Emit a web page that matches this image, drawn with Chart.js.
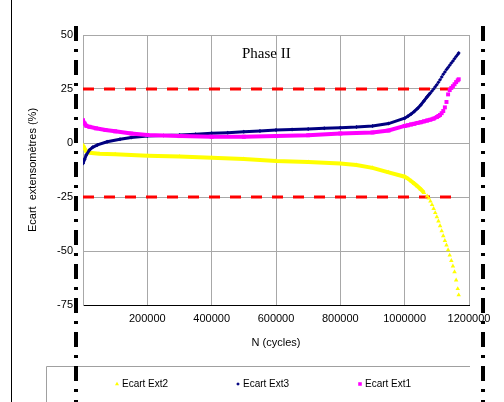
<!DOCTYPE html>
<html>
<head>
<meta charset="utf-8">
<script src="https://cdn.jsdelivr.net/npm/chart.js@4/dist/chart.umd.min.js"></script>
<style>
  html, body { margin: 0; padding: 0; background: #ffffff; }
  #wrap { position: relative; width: 504px; height: 402px; }
  canvas { display: block; }
</style>
</head>
<body>
<div id="wrap"><canvas id="c" width="504" height="402"></canvas></div>
<script>
// ---- Data (N in cycles, ecart in %) ----
const ext2N = [0, 5000, 10000, 20000, 50000, 100000, 200000, 300000, 400000, 500000, 600000, 700000, 800000, 850000, 900000, 950000, 1000000,
  1010000, 1020000, 1030000, 1040000, 1050000, 1060000, 1070000, 1075000, 1080000, 1085000, 1090000, 1095000, 1100000, 1105000, 1110000,
  1115000, 1120000, 1125000, 1130000, 1135000, 1140000, 1145000, 1150000, 1155000, 1160000, 1165000, 1168000];
const ext2Y = [-1.0, -2.5, -3.8, -4.5, -5.0, -5.2, -5.9, -6.3, -6.8, -7.4, -8.3, -8.8, -9.5, -10.2, -11.5, -13.6, -15.6,
  -16.5, -17.6, -18.8, -20.0, -21.4, -23.0, -24.6, -25.6, -27.0, -28.6, -30.4, -32.3, -34.2, -36.2, -38.4,
  -40.7, -43.0, -45.2, -47.3, -49.5, -52.0, -54.5, -57.0, -59.7, -63.5, -67.5, -70.4];

const ext3N = [0, 5000, 10000, 20000, 30000, 45000, 75000, 115000, 150000, 200000, 250000, 300000, 350000, 400000, 450000, 500000, 550000,
  600000, 650000, 700000, 750000, 800000, 850000, 900000, 950000, 1000000, 1010000, 1020000, 1030000, 1040000, 1050000, 1060000,
  1070000, 1075000, 1080000, 1085000, 1090000, 1095000, 1100000, 1105000, 1110000, 1115000, 1120000, 1125000, 1130000, 1135000,
  1140000, 1145000, 1150000, 1155000, 1160000, 1165000, 1168000];
const ext3Y = [-9.5, -7.5, -5.6, -3.2, -2.0, -0.9, 0.6, 1.7, 2.5, 3.2, 3.5, 3.7, 4.1, 4.5, 4.8, 5.2, 5.6,
  6.0, 6.2, 6.5, 6.8, 7.1, 7.4, 7.9, 9.0, 11.5, 12.4, 13.4, 14.6, 16.0, 17.6, 19.5,
  21.4, 22.3, 23.2, 24.1, 25.0, 26.0, 27.0, 28.1, 29.3, 30.5, 31.8, 32.9, 34.0, 35.0,
  36.0, 37.0, 38.0, 39.0, 40.0, 41.0, 41.7];

const ext1N = [0, 5000, 10000, 20000, 40000, 70000, 100000, 150000, 200000, 300000, 400000, 500000, 600000, 700000, 800000, 900000,
  950000, 1000000, 1010000, 1020000, 1030000, 1040000, 1050000, 1060000, 1070000, 1080000, 1090000, 1100000, 1105000, 1110000,
  1115000, 1120000, 1125000, 1130000, 1135000, 1140000, 1145000, 1150000, 1155000, 1160000, 1165000, 1168000];
const ext1Y = [10.5, 9.0, 8.0, 7.5, 6.8, 6.0, 5.4, 4.4, 3.7, 3.2, 2.9, 2.9, 3.2, 3.6, 4.4, 4.9,
  5.8, 7.9, 8.2, 8.6, 8.9, 9.3, 9.6, 10.0, 10.4, 10.8, 11.3, 12.0, 12.5, 13.0,
  13.8, 14.8, 16.5, 19.0, 22.5, 24.5, 25.5, 26.3, 27.2, 28.2, 29.0, 29.5];

const seuilN = [0, 1170000];
const seuilHaut = [25, 25];
const seuilBas = [-25, -25];

const xTicks = [0, 200000, 400000, 600000, 800000, 1000000, 1200000];
const yTicks = [50, 25, 0, -25, -50, -75];

const toPts = (xs, ys) => xs.map((x, i) => ({ x: x, y: ys[i] }));

Chart.defaults.font.family = "'Liberation Sans', Arial, sans-serif";
Chart.defaults.color = '#000000';

const tailSeg = (color, tail) => (ctx) => (ctx.p1.parsed.x > tail ? 'rgba(0,0,0,0)' : color);

const seriesDefs = [
  { label: 'Ecart Ext2', n: ext2N, y: ext2Y, color: '#ffff00', style: 'triangle', r: 2.6, w: 4, tail: 1060000 },
  { label: 'Ecart Ext3', n: ext3N, y: ext3Y, color: '#000080', style: 'rectRot', r: 2.0, w: 3, tail: 1080000 },
  { label: 'Ecart Ext1', n: ext1N, y: ext1Y, color: '#ff00ff', style: 'rect', r: 2.8, w: 4, tail: 1110000 }
];

const datasets = [
  { label: 'seuil+', data: toPts(seuilN, seuilHaut), showLine: true, borderColor: '#ff0000', borderWidth: 3,
    borderDash: [11, 10], pointRadius: 0, isThreshold: true, order: 5 },
  { label: 'seuil-', data: toPts(seuilN, seuilBas), showLine: true, borderColor: '#ff0000', borderWidth: 3,
    borderDash: [11, 10], pointRadius: 0, isThreshold: true, order: 5 }
];
seriesDefs.forEach((s, i) => {
  datasets.push({
    label: s.label,
    data: toPts(s.n, s.y),
    showLine: true,
    borderColor: s.color,
    borderWidth: s.w,
    backgroundColor: s.color,
    pointBackgroundColor: s.color,
    pointBorderColor: s.color,
    pointBorderWidth: 0,
    pointStyle: s.style,
    pointRadius: s.r,
    segment: { borderColor: tailSeg(s.color, s.tail) },
    order: 3 - i
  });
});

// decorations: annotation text, scanned frame artefacts, custom legend
const decor = {
  id: 'decor',
  afterDatasetsDraw(chart) {
    const { ctx, scales } = chart;
    ctx.save();
    ctx.fillStyle = '#000000';
    ctx.font = "15px 'Liberation Serif', 'Times New Roman', serif";
    ctx.textAlign = 'center';
    ctx.textBaseline = 'middle';
    ctx.fillText('Phase II', scales.x.getPixelForValue(570000), scales.y.getPixelForValue(41));
    ctx.restore();
  },
  afterDraw(chart) {
    const { ctx } = chart;
    ctx.save();
    // outer frame line on the left
    ctx.strokeStyle = '#000000';
    ctx.lineWidth = 1;
    ctx.beginPath(); ctx.moveTo(11.5, 0); ctx.lineTo(11.5, 402); ctx.stroke();
    // legend frame
    ctx.strokeStyle = '#a0a0a0';
    ctx.beginPath(); ctx.moveTo(46.5, 402); ctx.lineTo(46.5, 366.5); ctx.lineTo(470, 366.5); ctx.stroke();
    // dash-dot artefacts
    ctx.strokeStyle = '#000000';
    ctx.lineWidth = 4;
    ctx.setLineDash([15, 8, 3, 8]);
    ctx.beginPath(); ctx.moveTo(76, 26); ctx.lineTo(76, 402); ctx.stroke();
    ctx.beginPath(); ctx.moveTo(483, 26); ctx.lineTo(483, 402); ctx.stroke();
    ctx.setLineDash([]);
    // legend
    const xs = [117, 238, 360];
    const ly = 384;
    ctx.font = "10px 'Liberation Sans', Arial, sans-serif";
    ctx.textAlign = 'left';
    ctx.textBaseline = 'middle';
    chart.data.datasets.filter(d => !d.isThreshold).forEach((d, i) => {
      ctx.fillStyle = d.pointBackgroundColor;
      ctx.strokeStyle = d.pointBorderColor;
      Chart.helpers.drawPoint(ctx, { pointStyle: d.pointStyle, radius: d.pointRadius * 0.9, borderWidth: 0, rotation: 0 }, xs[i], ly);
      ctx.fillStyle = '#000000';
      ctx.fillText(d.label, xs[i] + 5, ly);
    });
    ctx.restore();
  }
};

new Chart(document.getElementById('c'), {
  type: 'scatter',
  data: { datasets: datasets },
  options: {
    responsive: false,
    animation: false,
    devicePixelRatio: 1,
    layout: { padding: { left: 0, right: 35, top: 35, bottom: 52 } },
    plugins: { legend: { display: false }, tooltip: { enabled: false } },
    scales: {
      x: {
        type: 'linear',
        min: xTicks[0], max: xTicks[xTicks.length - 1],
        afterBuildTicks: (s) => { s.ticks = xTicks.map(v => ({ value: v })); },
        afterFit: (s) => { s.height = 45; },
        ticks: { font: { size: 11 }, padding: 7, color: '#000', maxRotation: 0,
                 callback: (v) => (v === 0 ? '' : String(v)) },
        grid: { color: '#a8a8a8', drawTicks: false, lineWidth: 1 },
        border: { color: '#000000', width: 1 },
        title: { display: true, text: 'N (cycles)', font: { size: 11 }, padding: { top: 4, bottom: 0 }, color: '#000' }
      },
      y: {
        min: yTicks[yTicks.length - 1], max: yTicks[0],
        afterBuildTicks: (s) => { s.ticks = yTicks.slice().reverse().map(v => ({ value: v })); },
        afterFit: (s) => { s.width = 83; },
        ticks: { font: { size: 11 }, padding: 10, color: '#000' },
        grid: { color: '#a8a8a8', drawTicks: false, lineWidth: 1 },
        border: { color: '#a8a8a8', width: 1 },
        title: { display: true, text: 'Ecart  extensomètres (%)', font: { size: 11 }, padding: { top: 26, bottom: 0 }, color: '#000' }
      }
    }
  },
  plugins: [decor]
});
</script>
</body>
</html>
